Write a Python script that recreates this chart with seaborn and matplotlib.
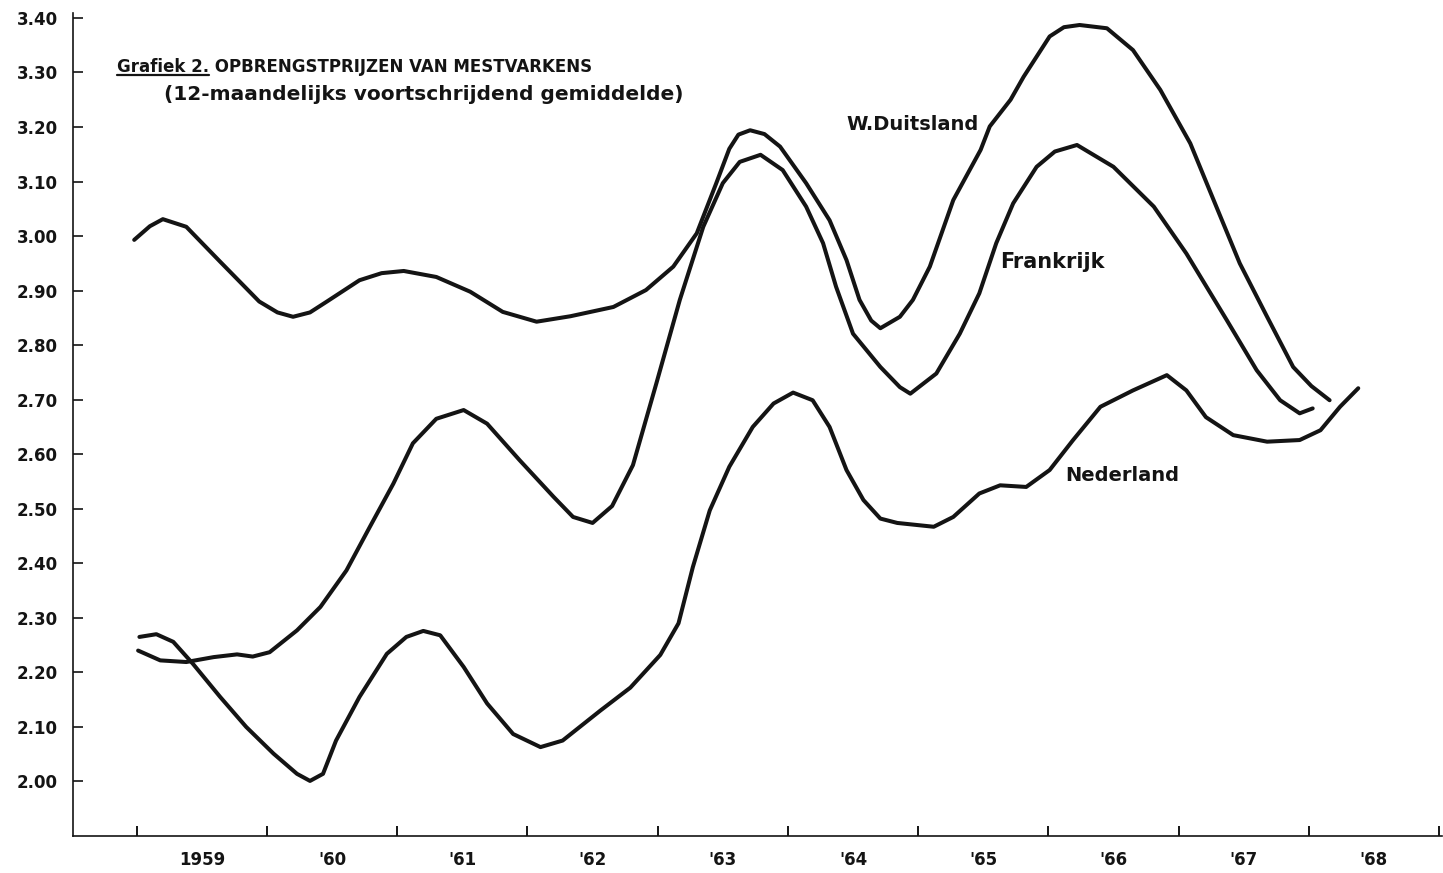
import matplotlib
matplotlib.use("Agg")
import matplotlib.pyplot as plt
import numpy as np
import pandas as pd
import seaborn as sns
from matplotlib.lines import Line2D

# 12-maands voortschrijdend gemiddelde
duitsland_jaar = [1958.98, 1959.10, 1959.20, 1959.38, 1959.64, 1959.94, 1960.08, 1960.20,
                  1960.33, 1960.46, 1960.71, 1960.88, 1961.05, 1961.30, 1961.56, 1961.81,
                  1962.07, 1962.33, 1962.66, 1962.91, 1963.12, 1963.30, 1963.45, 1963.55,
                  1963.62, 1963.71, 1963.82, 1963.94, 1964.14, 1964.32, 1964.45, 1964.55,
                  1964.64, 1964.71, 1964.86, 1964.96, 1965.09, 1965.27, 1965.48, 1965.55,
                  1965.71, 1965.81, 1966.01, 1966.12, 1966.24, 1966.45, 1966.65, 1966.86,
                  1967.09, 1967.29, 1967.47, 1967.68, 1967.88, 1968.02, 1968.16]
duitsland_prijs = [2.993, 3.018, 3.031, 3.017, 2.953, 2.880, 2.860, 2.852,
                   2.860, 2.880, 2.919, 2.932, 2.936, 2.925, 2.898, 2.861,
                   2.843, 2.853, 2.870, 2.901, 2.944, 3.005, 3.097, 3.160,
                   3.186, 3.194, 3.187, 3.164, 3.097, 3.029, 2.956, 2.883,
                   2.845, 2.831, 2.852, 2.883, 2.944, 3.066, 3.158, 3.201,
                   3.250, 3.292, 3.366, 3.383, 3.387, 3.381, 3.341, 3.268,
                   3.170, 3.054, 2.950, 2.852, 2.760, 2.725, 2.699]

frankrijk_jaar = [1959.01, 1959.18, 1959.38, 1959.59, 1959.77, 1959.89, 1960.02, 1960.23,
                  1960.41, 1960.61, 1960.79, 1960.97, 1961.12, 1961.30, 1961.51, 1961.69,
                  1961.94, 1962.20, 1962.35, 1962.50, 1962.65, 1962.81, 1962.99, 1963.17,
                  1963.35, 1963.50, 1963.63, 1963.79, 1963.96, 1964.14, 1964.27, 1964.37,
                  1964.50, 1964.71, 1964.86, 1964.94, 1965.14, 1965.32, 1965.47, 1965.60,
                  1965.73, 1965.91, 1966.05, 1966.22, 1966.50, 1966.81, 1967.06, 1967.37,
                  1967.60, 1967.78, 1967.93, 1968.03]
frankrijk_prijs = [2.240, 2.222, 2.219, 2.228, 2.233, 2.229, 2.237, 2.277,
                   2.320, 2.387, 2.467, 2.546, 2.620, 2.665, 2.681, 2.656,
                   2.589, 2.522, 2.485, 2.474, 2.505, 2.580, 2.730, 2.883,
                   3.017, 3.097, 3.136, 3.149, 3.121, 3.054, 2.987, 2.907,
                   2.821, 2.760, 2.723, 2.711, 2.748, 2.821, 2.895, 2.987,
                   3.060, 3.127, 3.155, 3.167, 3.127, 3.054, 2.968, 2.846,
                   2.754, 2.699, 2.675, 2.684]

nederland_jaar = [1959.02, 1959.15, 1959.28, 1959.43, 1959.64, 1959.84, 1960.05, 1960.23,
                  1960.33, 1960.43, 1960.53, 1960.71, 1960.92, 1961.07, 1961.20, 1961.33,
                  1961.51, 1961.69, 1961.89, 1962.10, 1962.27, 1962.56, 1962.79, 1963.02,
                  1963.16, 1963.27, 1963.40, 1963.55, 1963.73, 1963.89, 1964.04, 1964.19,
                  1964.32, 1964.45, 1964.58, 1964.71, 1964.84, 1965.12, 1965.27, 1965.47,
                  1965.63, 1965.83, 1966.01, 1966.19, 1966.40, 1966.65, 1966.91, 1967.06,
                  1967.21, 1967.42, 1967.68, 1967.93, 1968.09, 1968.24, 1968.38]
nederland_prijs = [2.265, 2.270, 2.256, 2.216, 2.155, 2.100, 2.051, 2.014,
                   2.001, 2.014, 2.075, 2.155, 2.234, 2.265, 2.276, 2.268,
                   2.210, 2.143, 2.087, 2.063, 2.075, 2.130, 2.172, 2.232,
                   2.290, 2.393, 2.497, 2.577, 2.650, 2.693, 2.713, 2.699,
                   2.650, 2.571, 2.516, 2.482, 2.474, 2.467, 2.485, 2.528,
                   2.543, 2.540, 2.571, 2.626, 2.687, 2.717, 2.745, 2.717,
                   2.668, 2.635, 2.623, 2.626, 2.644, 2.687, 2.721]

landen = ["W.Duitsland", "Frankrijk", "Nederland"]
jaar_grenzen = list(range(1959, 1970))
jaar_labels = ["1959", "'60", "'61", "'62", "'63", "'64", "'65", "'66", "'67", "'68"]
prijs_ticks = [2.00, 2.10, 2.20, 2.30, 2.40, 2.50, 2.60, 2.70, 2.80, 2.90,
               3.00, 3.10, 3.20, 3.30, 3.40]

INK = "#141414"


def make_frame():
    series = [(duitsland_jaar, duitsland_prijs), (frankrijk_jaar, frankrijk_prijs),
              (nederland_jaar, nederland_prijs)]
    frames = []
    for land, (x, y) in zip(landen, series):
        frames.append(pd.DataFrame({"Jaar": x, "Prijs": y, "Land": land}))
    return pd.concat(frames, ignore_index=True)


def line_plot():
    df = make_frame()
    sns.set_theme(style="white")
    plt.rcParams["font.family"] = ["DejaVu Sans"]

    fig = plt.figure(figsize=(14.43, 8.73), dpi=100)
    ax = fig.add_axes([73 / 1443, 37 / 873, 1368.6 / 1443, 823 / 873])

    sns.lineplot(data=df, x="Jaar", y="Prijs", hue="Land", units="Land",
                 palette=[INK] * 3, estimator=None, sort=False, legend=False,
                 linewidth=2.9, ax=ax)
    for line in ax.get_lines():
        line.set_solid_joinstyle("round")
        line.set_solid_capstyle("round")

    ax.set_xlim(1958.51, 1969.02)
    ax.set_ylim(1.90, 3.409)
    ax.set_xlabel("")
    ax.set_ylabel("")

    for side in ["top", "right"]:
        ax.spines[side].set_visible(False)
    for side in ["left", "bottom"]:
        ax.spines[side].set_color(INK)
        ax.spines[side].set_linewidth(1.2)

    ax.set_yticks(prijs_ticks)
    ax.set_yticklabels([f"{v:.2f}" for v in prijs_ticks], fontsize=12,
                       fontweight="bold", color=INK)
    ax.tick_params(axis="y", direction="in", length=7, width=1.2, color=INK, pad=11, left=True)

    ax.set_xticks(jaar_grenzen)
    ax.set_xticklabels([])
    ax.set_xticks([j + 0.5 for j in jaar_grenzen[:-1]], minor=True)
    ax.set_xticklabels(jaar_labels, minor=True, fontsize=12, fontweight="bold", color=INK)
    ax.tick_params(axis="x", which="major", direction="in", length=7, width=1.4,
                   color=INK, bottom=True)
    ax.tick_params(axis="x", which="minor", length=0, pad=11, bottom=True)

    # titel
    t1 = ax.text(1958.85, 3.30, "Grafiek 2.", fontsize=12, fontweight="bold",
                 color=INK, va="baseline", ha="left")
    ax.annotate(" OPBRENGSTPRIJZEN VAN MESTVARKENS", xy=(1, 0), xycoords=t1,
                fontsize=12, fontweight="bold", color=INK, va="bottom", ha="left")
    ax.text(1959.21, 3.25, "(12-maandelijks voortschrijdend gemiddelde)", fontsize=14.5,
            fontweight="bold", color=INK, va="baseline", ha="left")

    # namen bij de lijnen
    ax.text(1964.45, 3.204, "W.Duitsland", fontsize=14, fontweight="bold", color=INK, va="center")
    ax.text(1965.63, 2.952, "Frankrijk", fontsize=15, fontweight="bold", color=INK, va="center")
    ax.text(1966.13, 2.561, "Nederland", fontsize=14, fontweight="bold", color=INK, va="center")

    fig.canvas.draw()
    bb = t1.get_window_extent()
    inv = fig.transFigure.inverted()
    (x0, y0), (x1, _) = inv.transform([(bb.x0, bb.y0 + 1), (bb.x1, bb.y0 + 1)])
    fig.add_artist(Line2D([x0, x1], [y0, y0], transform=fig.transFigure,
                          color=INK, linewidth=1.6))

    fig.savefig("out.png", dpi=100, facecolor="white")


if __name__ == '__main__':
    line_plot()
